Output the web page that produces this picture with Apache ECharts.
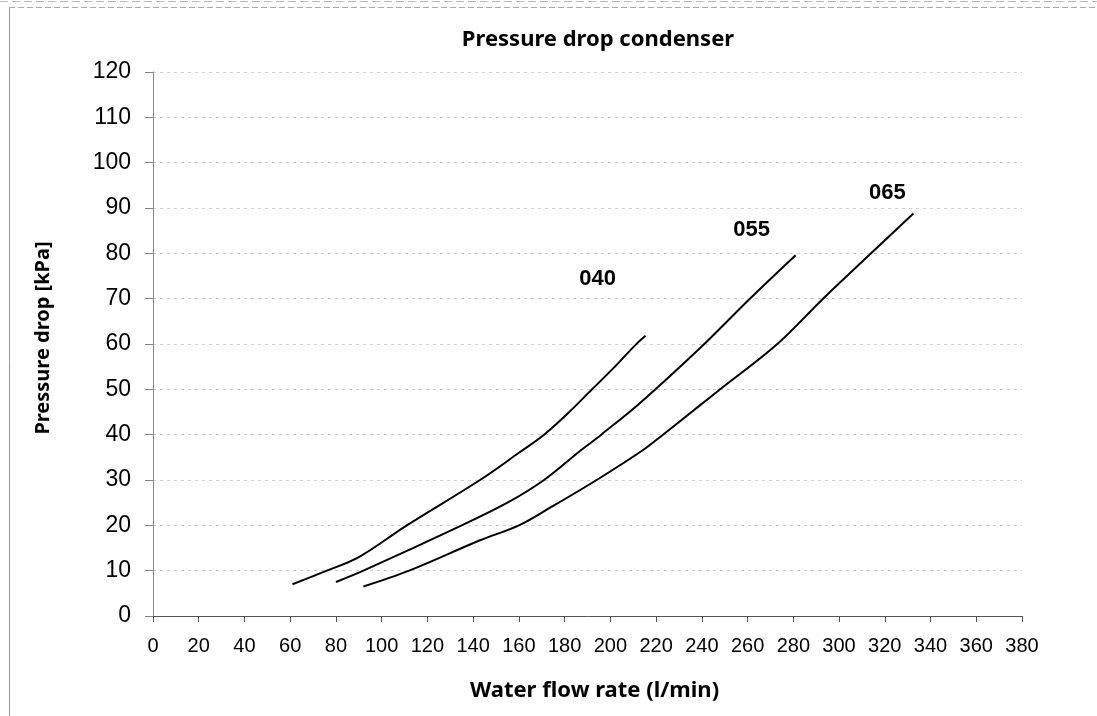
<!DOCTYPE html>
<html>
<head>
<meta charset="utf-8">
<script src="https://cdn.jsdelivr.net/npm/echarts@6/dist/echarts.min.js"></script>
<style>
html,body{margin:0;padding:0;background:#fff;}
#chart{width:1097px;height:716px;}
</style>
</head>
<body>
<div id="chart"></div>
<script>
// Data
const title = 'Pressure drop condenser';
const xAxisName = 'Water flow rate (l/min)';
const yAxisName = 'Pressure drop [kPa]';

const flow040 = [61, 76, 90, 111, 143, 160, 171, 181, 192, 202, 211, 215.4];
const drop040 = [7, 10, 13, 20, 30, 36, 40, 44.5, 50, 55, 59.8, 61.8];

const flow055 = [80, 92, 135, 155, 171, 187, 196, 213, 239, 261, 281];
const drop055 = [7.5, 10, 20, 25, 30, 36.5, 40, 47, 59, 70, 79.6];

const flow065 = [92, 112, 143, 160, 174, 194, 214, 223, 239, 248, 273, 293, 314, 332.5];
const drop065 = [6.5, 10, 16.7, 20, 24, 30, 36.5, 40, 46.4, 50, 60, 70, 80, 88.8];

const seriesNames = ['040', '055', '065'];
const labelX = [194.4, 261.8, 321.1];
const labelY = [74.3, 85.1, 93.3];

const xMin = 0, xMax = 380, xStep = 20;
const yMin = 0, yMax = 120, yStep = 10;

function pairs(xs, ys) { return xs.map((x, i) => [x, ys[i]]); }

const chart = echarts.init(document.getElementById('chart'));
const lineStyle = { color: '#000', width: 2 };
const curves = [pairs(flow040, drop040), pairs(flow055, drop055), pairs(flow065, drop065)];

const series = curves.map((d, i) => ({
  name: seriesNames[i],
  type: 'line',
  data: d,
  smooth: 0.35,
  symbol: 'none',
  lineStyle: lineStyle,
  silent: true,
  z: 3
}));
series.push({
  type: 'scatter',
  symbolSize: 0,
  itemStyle: { opacity: 1, color: '#000' },
  data: labelX.map((x, i) => [x, labelY[i], seriesNames[i]]),
  label: {
    show: true,
    position: 'inside',
    formatter: p => p.value[2],
    fontFamily: 'Liberation Sans, Arial, sans-serif',
    fontWeight: 'bold',
    fontSize: 22,
    color: '#000',
    textBorderWidth: 0
  },
  silent: true,
  z: 4
});

const nameFont = 'Noto Sans, Open Sans, sans-serif';

chart.setOption({
  animation: false,
  backgroundColor: '#fff',
  title: {
    text: title,
    left: 593,
    top: 24,
    textAlign: 'center',
    textStyle: { fontFamily: nameFont, fontWeight: 'bold', fontSize: 22, color: '#000' }
  },
  grid: { left: 153, right: 75, top: 72, bottom: 100 },
  xAxis: {
    type: 'value',
    min: xMin, max: xMax, interval: xStep,
    name: xAxisName,
    nameLocation: 'middle',
    nameGap: 64,
    nameTextStyle: { fontFamily: nameFont, fontWeight: 'bold', fontSize: 22, color: '#000', padding: [0, 0, 0, 14] },
    axisLine: { show: true, lineStyle: { color: '#555', width: 1 } },
    axisTick: { show: true, inside: false, length: 6, lineStyle: { color: '#555' } },
    axisLabel: { fontFamily: 'Liberation Sans, Arial, sans-serif', fontSize: 20, color: '#000', margin: 20 },
    splitLine: { show: false }
  },
  yAxis: {
    type: 'value',
    min: yMin, max: yMax, interval: yStep,
    name: yAxisName,
    nameLocation: 'middle',
    nameGap: 100,
    nameRotate: 90,
    nameTextStyle: { fontFamily: nameFont, fontWeight: 'bold', fontSize: 20, color: '#000', padding: [0, 0, 0, 12] },
    axisLine: { show: true, lineStyle: { color: '#888', width: 1 } },
    axisTick: { show: true, inside: false, length: 8, lineStyle: { color: '#888' } },
    axisLabel: { fontFamily: 'Liberation Sans, Arial, sans-serif', fontSize: 23, color: '#000', margin: 22 },
    splitLine: { show: true, lineStyle: { color: '#cfcfcf', width: 1, type: [3, 4] } }
  },
  graphic: [
    { type: 'line', shape: { x1: 9.5, y1: 7, x2: 9.5, y2: 716 }, style: { stroke: '#999', lineWidth: 1 } },
    { type: 'line', shape: { x1: 9, y1: 7.5, x2: 1097, y2: 7.5 }, style: { stroke: '#aaa', lineWidth: 1, lineDash: [6, 3] } },
    { type: 'line', shape: { x1: 0, y1: 1.5, x2: 1097, y2: 1.5 }, style: { stroke: '#bbb', lineWidth: 1, lineDash: [8, 4] } }
  ],
  series: series
});
</script>
</body>
</html>
